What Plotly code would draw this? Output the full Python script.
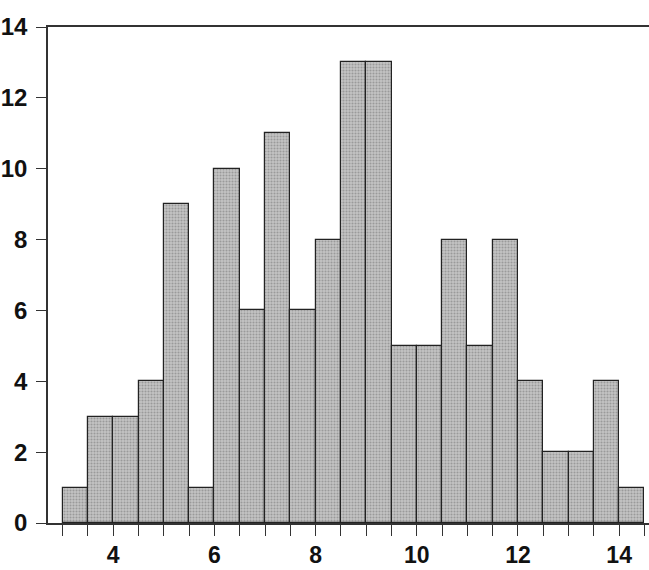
import plotly.graph_objects as go

bin_left = [3.0, 3.5, 4.0, 4.5, 5.0, 5.5, 6.0, 6.5, 7.0, 7.5, 8.0, 8.5,
            9.0, 9.5, 10.0, 10.5, 11.0, 11.5, 12.0, 12.5, 13.0, 13.5, 14.0]
counts = [1, 3, 3, 4, 9, 1, 10, 6, 11, 6, 8, 13, 13, 5, 5, 8, 5, 8, 4, 2, 2, 4, 1]
bin_width = 0.5
x_tick_vals = [4, 6, 8, 10, 12, 14]
y_tick_vals = [0, 2, 4, 6, 8, 10, 12, 14]

centers = [b + bin_width / 2 for b in bin_left]
edges = bin_left + [bin_left[-1] + bin_width]

fig = go.Figure(go.Bar(
    x=centers, y=counts, width=[bin_width] * len(counts),
    marker=dict(color="#b0b0b0", line=dict(color="#222222", width=1.2),
                pattern=dict(shape=".", size=3, solidity=0.4,
                             fgcolor="#707070", bgcolor="#c4c4c4")),
    showlegend=False,
))

tickvals = edges
ticktext = [str(int(v)) if v in x_tick_vals else "" for v in edges]

fig.update_layout(
    width=649, height=570,
    margin=dict(l=48, r=0, t=27, b=47, autoexpand=False),
    paper_bgcolor="white", plot_bgcolor="white",
    bargap=0,
    font=dict(family="Liberation Sans, Arial, sans-serif", size=24, color="#111111", weight="bold"),
)
fig.update_xaxes(
    range=[2.71, 14.59], tickvals=tickvals, ticktext=ticktext,
    ticks="outside", ticklen=11, tickwidth=1.2, tickcolor="#333333",
    showline=True, linecolor="#333333", linewidth=1.5, mirror=True,
    showgrid=False, zeroline=False, ticklabelstandoff=0, automargin=False,
    tickfont=dict(size=23),
)
fig.update_yaxes(
    range=[0, 14], tickvals=y_tick_vals,
    ticks="outside", ticklen=10, tickwidth=1.2, tickcolor="#333333",
    showline=True, linecolor="#333333", linewidth=1.5,
    showgrid=False, zeroline=False, ticklabelstandoff=4, automargin=False,
)

fig.write_html(
    "out.html",
    config={"displayModeBar": False},
    post_script="document.body.style.margin='0';document.body.style.padding='0';",
)
